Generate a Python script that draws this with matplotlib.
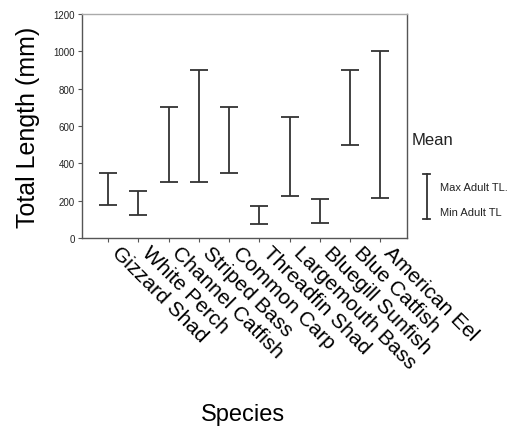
import matplotlib
matplotlib.use("Agg")
import matplotlib.pyplot as plt
import numpy as np
from matplotlib.lines import Line2D

plt.rcParams['font.family'] = ['Liberation Sans', 'DejaVu Sans']

species = ["Gizzard Shad", "White Perch", "Channel Catfish", "Striped Bass",
           "Common Carp", "Threadfin Shad", "Largemouth Bass", "Bluegill Sunfish",
           "Blue Catfish", "American Eel"]
min_tl = [175, 125, 300, 300, 350, 75, 225, 80, 500, 215]
max_tl = [350, 250, 700, 900, 700, 170, 650, 210, 900, 1000]
yticks = [0, 200, 400, 600, 800, 1000, 1200]

fig = plt.figure(figsize=(5.30, 4.31), dpi=100)
ax = fig.add_axes([0.1547, 0.4455, 0.768 - 0.1547, 0.965 - 0.4455])

x = np.arange(len(species))
lo = np.array(min_tl, dtype=float)
hi = np.array(max_tl, dtype=float)
mid = (lo + hi) / 2
half = (hi - lo) / 2
ax.errorbar(x, mid, yerr=half, fmt='none', ecolor='#333333', elinewidth=1.3,
            capsize=6.5, capthick=1.3)

ax.set_xlim(-0.86, len(species) - 1 + 0.88)
ax.set_ylim(0, 1200)
ax.set_yticks(yticks)
ax.set_yticklabels([str(v) for v in yticks], fontsize=7, color='#222222')
ax.set_xticks(x)
ax.set_xticklabels(species, fontsize=15, rotation=-45, ha='left', va='bottom',
                   rotation_mode='anchor')
ax.tick_params(axis='x', length=3, width=0.8, color='#555555', pad=10)
ax.tick_params(axis='y', length=3, width=0.8, color='#555555', pad=2)

for s in ['left', 'bottom', 'right']:
    ax.spines[s].set_color('#555555')
    ax.spines[s].set_linewidth(1.0)
ax.spines['top'].set_color('#aaaaaa')
ax.spines['top'].set_linewidth(1.0)

ax.set_ylabel("Total Length (mm)", fontsize=18, labelpad=10)
fig.text(0.458, 0.037, "Species", fontsize=17, ha='center', va='center')

# legend-like annotation
fig.text(0.777, 0.675, "Mean", fontsize=12, ha='left', va='center', color='#222222')
lx = 0.805
ytop, ybot = 1 - 175/431, 1 - 220/431
fig.add_artist(Line2D([lx, lx], [ybot, ytop], color='#333333', lw=1.3))
fig.add_artist(Line2D([lx - 0.007, lx + 0.007], [ytop, ytop], color='#333333', lw=1.3))
fig.add_artist(Line2D([lx - 0.007, lx + 0.007], [ybot, ybot], color='#333333', lw=1.3))
fig.text(0.83, 1 - 188/431, "Max Adult TL.", fontsize=8, ha='left', va='center', color='#222222')
fig.text(0.83, 1 - 213/431, "Min Adult TL", fontsize=8, ha='left', va='center', color='#222222')

fig.savefig("out.png", dpi=100)
